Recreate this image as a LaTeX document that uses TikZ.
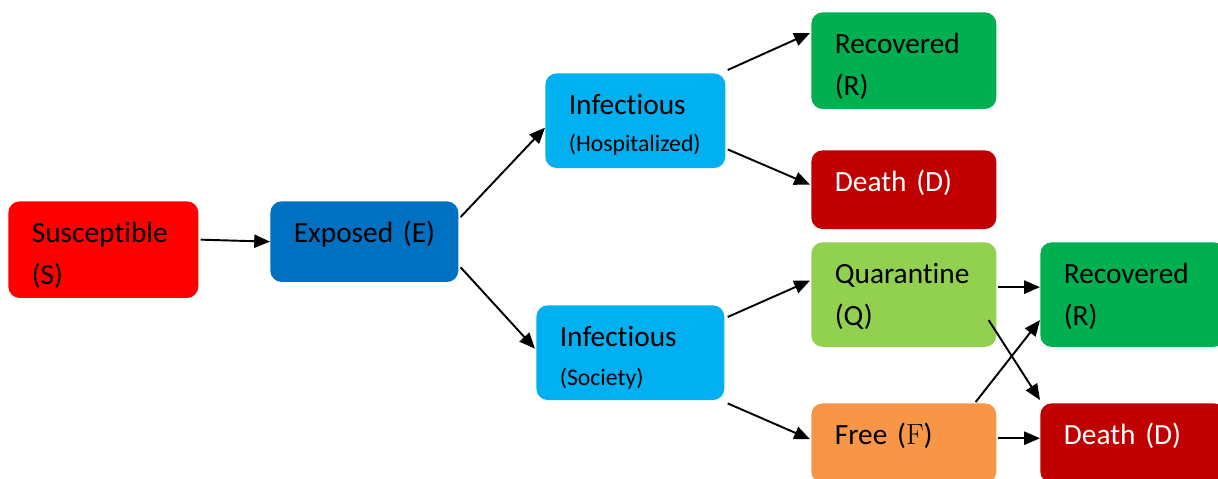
\documentclass[tikz,border=0pt]{standalone}
\usepackage{fontspec}
\setmainfont{Carlito}[Ligatures=NoCommon]
\newfontfamily\lmfont{Latin Modern Roman}
\usetikzlibrary{arrows.meta}
\definecolor{suscred}{HTML}{FF0000}
\definecolor{expblue}{HTML}{0070C0}
\definecolor{infcyan}{HTML}{00B0F0}
\definecolor{recgreen}{HTML}{00B050}
\definecolor{deathred}{HTML}{C00000}
\definecolor{quargreen}{HTML}{92D050}
\definecolor{freeorange}{HTML}{F79646}
\begin{document}
\begin{tikzpicture}[x=0.02cm, y=-0.02cm, >={Triangle[length=9pt,width=7.5pt]},
  box/.style={anchor=north west, rounded corners=6.5pt, inner xsep=0.47cm, inner ysep=0pt,
    align=left, text height=23.6pt, font=\fontsize{16.7}{23.8}\selectfont},
  flow/.style={->, line width=1.1pt}]
  \useasboundingbox (0,0) rectangle (1218,479);

  % compartments (text sits at the top of each box)
  \node[box, fill=suscred, text width=2.86cm, text depth=31.4pt] (S) at (8,201) {Susceptible\\(S)};
  \node[box, fill=expblue, text width=2.82cm, text depth=22.3pt] (E) at (270,201) {\mbox{Exposed (E)}};
  \node[box, fill=infcyan, text width=2.66cm, text depth=30.3pt] (IH) at (545,73) {Infectious\\[-3pt]{\fontsize{13.5}{16}\selectfont (Hospitalized)}};
  \node[box, fill=infcyan, text width=2.82cm, text depth=30.3pt] (IS) at (536,305) {Infectious\\[-2pt]{\fontsize{13.5}{16}\selectfont (Society)}};
  \node[box, fill=recgreen, text width=2.76cm, text depth=31.4pt] (R1) at (811,12) {Recovered\\(R)};
  \node[box, fill=deathred, text=white, text width=2.76cm, text depth=21.2pt] (D1) at (811,150) {Death (D)};
  \node[box, fill=quargreen, text width=2.76cm, text depth=35.9pt] (Q) at (811,242) {Quarantine\\(Q)};
  \node[box, fill=freeorange, text width=2.76cm, text depth=21.8pt] (F) at (811,403) {Free ({\lmfont F})};
  \node[box, fill=recgreen, text width=2.76cm, text depth=35.9pt] (R2) at (1040,242) {Recovered\\(R)};
  \node[box, fill=deathred, text=white, text width=2.76cm, text depth=21.8pt] (D2) at (1040,403) {Death (D)};

  % transitions
  \draw[flow] ([shift={(2,-10)}]S.east) -- (E.west);
  \draw[flow] ([shift={(2,16)}]E.north east) -- ([shift={(0,7)}]IH.west);
  \draw[flow] ([shift={(2,-15)}]E.south east) -- ([shift={(-1,-4)}]IS.west);
  \draw[flow] ([shift={(2,-3)}]IH.north east) -- ([shift={(-1,21)}]R1.north west);
  \draw[flow] ([shift={(2,-19)}]IH.south east) -- ([shift={(-1,-5)}]D1.west);
  \draw[flow] ([shift={(3,12)}]IS.north east) -- ([shift={(-1,-14)}]Q.west);
  \draw[flow] ([shift={(3,3)}]IS.south east) -- ([shift={(-1,-4)}]F.west);
  \draw[flow] ([shift={(1,-7.5)}]Q.east) -- ([shift={(0,-7.5)}]R2.west);
  \draw[flow] ([shift={(-8,25.5)}]Q.east) -- ([shift={(0,-3)}]D2.north west);
  \draw[flow] ([shift={(-21,-1)}]F.north east) -- ([shift={(0,25.5)}]R2.west);
  \draw[flow] ([shift={(1,-5)}]F.east) -- ([shift={(0,-5)}]D2.west);
\end{tikzpicture}
\end{document}
